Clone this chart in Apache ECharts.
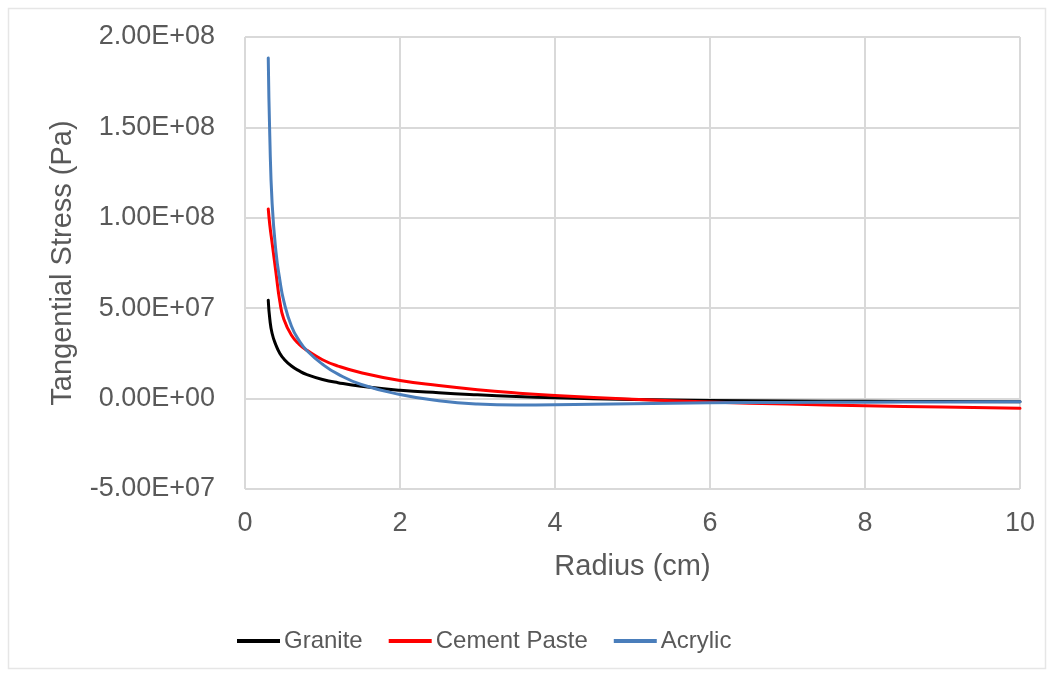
<!DOCTYPE html>
<html>
<head>
<meta charset="utf-8">
<title>Tangential Stress vs Radius</title>
<script src="https://cdn.jsdelivr.net/npm/echarts@6/dist/echarts.min.js"></script>
<style>
  html, body { margin: 0; padding: 0; background: #ffffff; }
  #chart { width: 1050px; height: 674px; }
</style>
</head>
<body>
<div id="chart"></div>
<script>
// Radius positions (cm) shared by all three materials
const radius = [0.3, 0.32, 0.35, 0.4, 0.45, 0.5, 0.6, 0.7, 0.8, 1.0, 1.2, 1.5, 2, 2.5, 3, 3.5, 4, 5, 6, 7, 8, 9, 10];

// Tangential stress (Pa) for each material
const granite = [5.44e7, 4.4e7, 3.6e7, 2.95e7, 2.5e7, 2.2e7, 1.8e7, 1.53e7, 1.33e7, 1.06e7, 8.8e6, 6.8e6, 4.6e6, 3.2e6, 2.1e6, 1.2e6, 5.0e5, -5.0e5, -1.0e6, -1.3e6, -1.5e6, -1.65e6, -1.8e6];
const cementPaste = [1.049e8, 9.6e7, 8.6e7, 6.95e7, 5.35e7, 4.4e7, 3.5e7, 3.0e7, 2.67e7, 2.15e7, 1.8e7, 1.43e7, 1.0e7, 7.2e6, 4.9e6, 3.1e6, 1.7e6, -3.0e5, -1.9e6, -3.0e6, -3.9e6, -4.7e6, -5.4e6];
const acrylic = [1.884e8, 1.45e8, 1.08e8, 8.1e7, 6.55e7, 5.4e7, 4.0e7, 3.2e7, 2.65e7, 1.9e7, 1.35e7, 7.8e6, 2.3e6, -1.2e6, -3.0e6, -3.5e6, -3.4e6, -2.8e6, -2.3e6, -2.1e6, -1.95e6, -1.85e6, -1.75e6];

const seriesNames = ['Granite', 'Cement Paste', 'Acrylic'];
const seriesColors = ['#000000', '#ff0000', '#4a7ebb'];
const seriesValues = [granite, cementPaste, acrylic];

// Axis settings
const xMin = 0, xMax = 10, xStep = 2;
const yMin = -5e7, yMax = 2e8, yStep = 5e7;

const textColor = '#595959';
const fontFamily = '"Liberation Sans", Arial, sans-serif';
const gridColor = '#d9d9d9';

// Excel-style scientific label, e.g. 1.50E+08
function sci(v) {
  if (v === 0) return '0.00E+00';
  const s = v.toExponential(2).toUpperCase();
  const m = s.match(/^(-?[\d.]+)E([+-])(\d+)$/);
  const exp = m[3].length < 2 ? '0' + m[3] : m[3];
  return m[1] + 'E' + m[2] + exp;
}

const chart = echarts.init(document.getElementById('chart'), null, { renderer: 'canvas' });

chart.setOption({
  backgroundColor: '#ffffff',
  animation: false,
  textStyle: { fontFamily: fontFamily },
  graphic: [{
    type: 'rect',
    shape: { x: 8.5, y: 8.5, width: 1037, height: 660 },
    style: { fill: 'none', stroke: '#e6e6e6', lineWidth: 1.5 },
    silent: true,
    z: -10
  }],
  grid: { left: 245, right: 30, top: 37, bottom: 185 },
  legend: {
    data: seriesNames,
    left: 232,
    top: 624,
    icon: 'rect',
    itemWidth: 43,
    itemHeight: 4,
    itemGap: 26,
    textStyle: { color: textColor, fontSize: 24, fontFamily: fontFamily, padding: [0, 0, 0, -1] }
  },
  xAxis: {
    type: 'value',
    min: xMin,
    max: xMax,
    interval: xStep,
    name: 'Radius (cm)',
    nameLocation: 'middle',
    nameGap: 63,
    nameTextStyle: { color: textColor, fontSize: 29, fontFamily: fontFamily },
    axisLine: { show: false },
    axisTick: { show: false },
    axisLabel: { color: textColor, fontSize: 27, margin: 21, fontFamily: fontFamily },
    splitLine: { show: true, lineStyle: { color: gridColor, width: 2 } }
  },
  yAxis: {
    type: 'value',
    min: yMin,
    max: yMax,
    interval: yStep,
    name: 'Tangential Stress (Pa)',
    nameLocation: 'middle',
    nameGap: 168,
    nameTextStyle: { color: textColor, fontSize: 29, fontFamily: fontFamily },
    axisLine: { show: false },
    axisTick: { show: false },
    axisLabel: { color: textColor, fontSize: 27, margin: 30, fontFamily: fontFamily, formatter: sci },
    splitLine: { show: true, lineStyle: { color: gridColor, width: 2 } }
  },
  series: seriesNames.map((name, i) => ({
    name: name,
    type: 'line',
    data: radius.map((r, k) => [r, seriesValues[i][k]]),
    smooth: 0.5,
    showSymbol: false,
    symbol: 'none',
    lineStyle: { color: seriesColors[i], width: 3, join: 'round', cap: 'round' },
    itemStyle: { color: seriesColors[i] },
    z: 2 + i
  }))
});
</script>
</body>
</html>
